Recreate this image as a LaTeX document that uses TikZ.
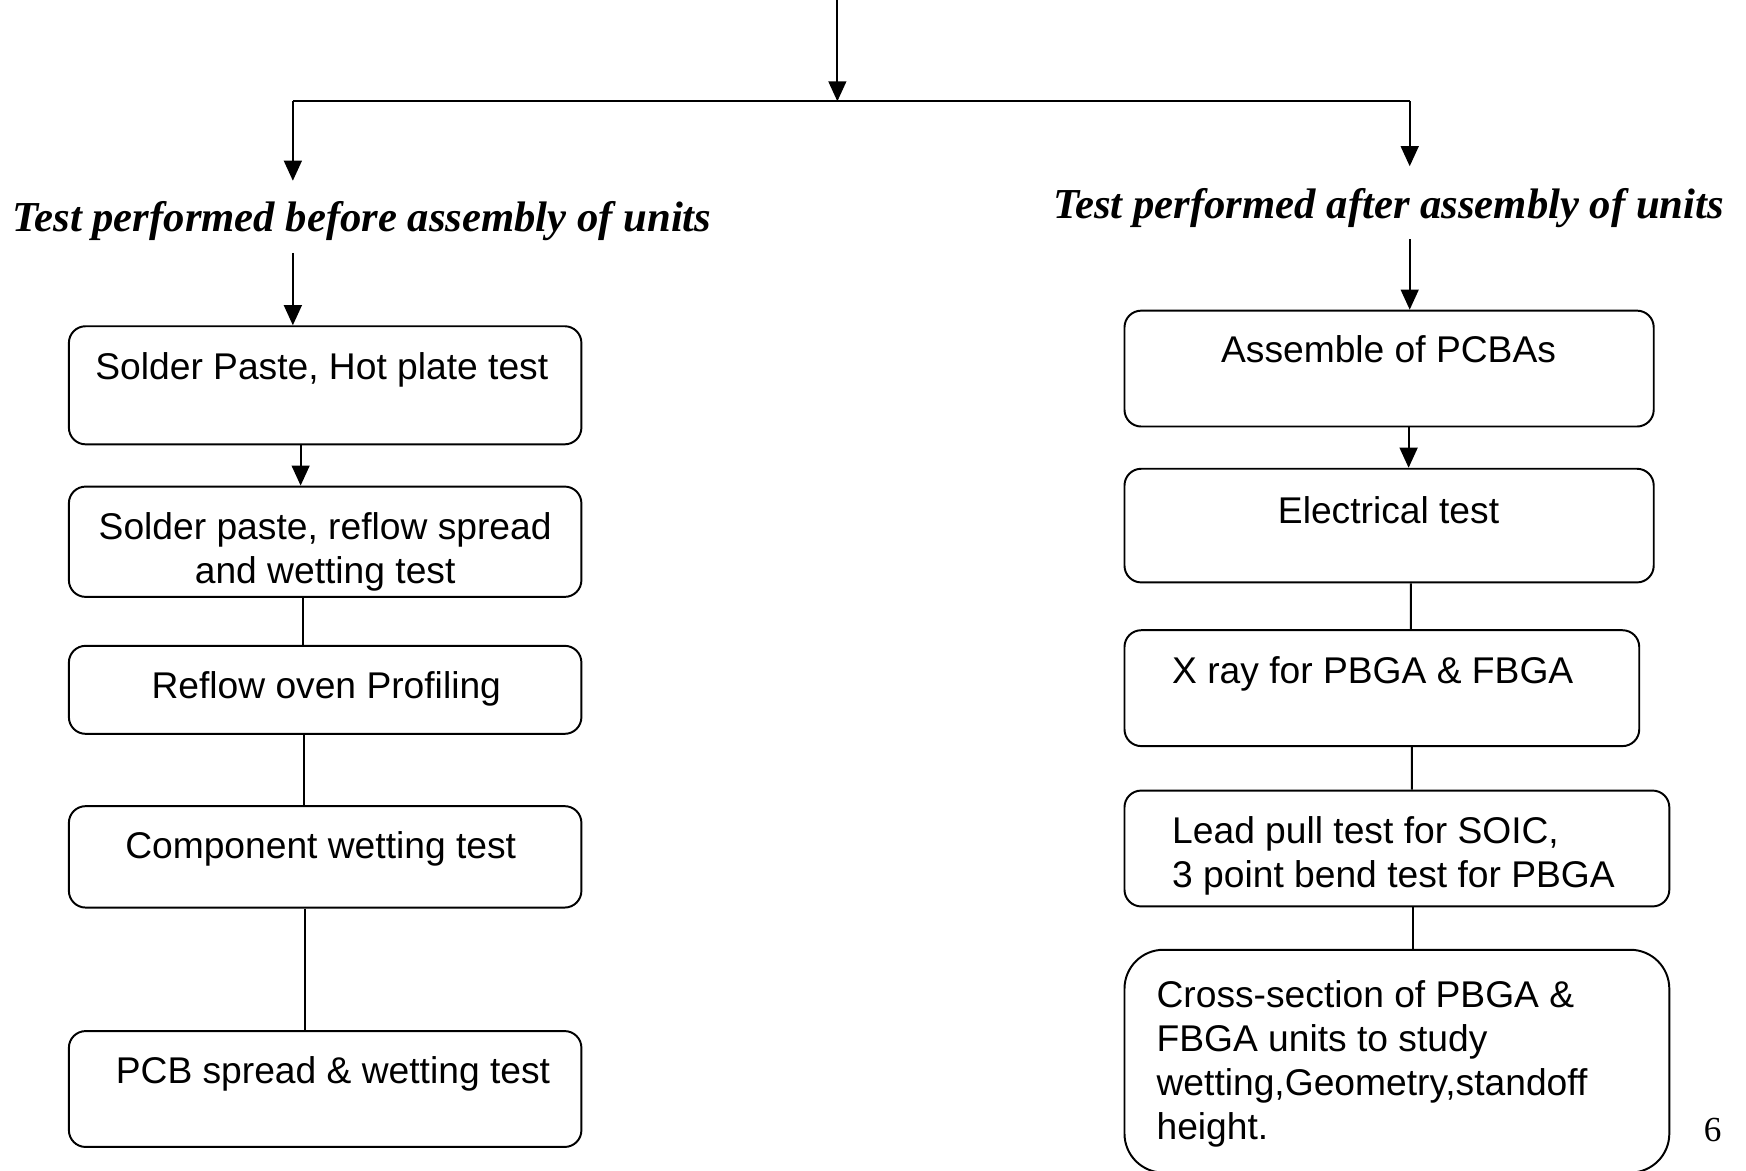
\documentclass[tikz,border=0pt]{standalone}
\usepackage{fontspec}
\setmainfont{Liberation Serif}
\newfontfamily\boxfont{Liberation Sans}
\usetikzlibrary{arrows.meta}

\tikzset{
  stage/.style={draw, line width=0.5pt, rounded corners=1.5mm, inner sep=0pt},
  stagetext/.style={font=\boxfont\fontsize{9.5}{11.2}\selectfont, inner sep=0pt, anchor=north},
  heading/.style={font=\bfseries\itshape\fontsize{10.9}{13}\selectfont, inner sep=0pt, anchor=base},
  flow/.style={line width=0.5pt, -{Triangle[length=1.8mm,width=1.6mm]}},
  link/.style={line width=0.5pt}
}

\begin{document}
\begin{tikzpicture}[x=0.01cm, y=-0.01cm]
  \useasboundingbox (0,0) rectangle (1568,1051);

  % main branch at the top
  \coordinate (top) at (752,0);
  \coordinate (fork) at (752,91);
  \coordinate (forkL) at (263,91);
  \coordinate (forkR) at (1266,91);
  \draw[flow] (top) -- (fork);
  \draw[link] (forkL) -- (forkR);

  % the two headings
  \node[heading] (before) at (325,208) {Test performed before assembly of units};
  \node[heading] (after) at (1247,196) {Test performed after assembly of units};
  \draw[flow, shorten >=1.8mm] (forkL) -- (forkL |- before.north);
  \draw[flow, shorten >=1.9mm] (forkR) -- (forkR |- after.north);

  % left column: before assembly
  \node[stage, minimum width=4.6cm, minimum height=1.06cm] (b1) at (292,346) {};
  \node[stage, minimum width=4.6cm, minimum height=0.99cm] (b2) at (292,486.5) {};
  \node[stage, minimum width=4.6cm, minimum height=0.79cm] (b3) at (292,619.5) {};
  \node[stage, minimum width=4.6cm, minimum height=0.91cm] (b4) at (292,769.5) {};
  \node[stage, minimum width=4.6cm, minimum height=1.04cm] (b5) at (292,978) {};

  \node[stagetext] at (289,316) {Solder Paste, Hot plate test};
  \node[stagetext, align=center] at (292,460) {Solder paste, reflow spread\\and wetting test};
  \node[stagetext] at (293,602) {Reflow oven Profiling};
  \node[stagetext] at (288,746) {Component wetting test};
  \node[stagetext] at (299,948) {PCB spread \& wetting test};

  \draw[flow, shorten <=1mm] (before.south -| forkL) -- (b1.north -| forkL);
  \draw[flow] ([xshift=-2.2mm]b1.south) -- ([xshift=-2.2mm]b2.north);
  \draw[link] ([xshift=-2mm]b2.south) -- ([xshift=-2mm]b3.north);
  \draw[link] ([xshift=-1.9mm]b3.south) -- ([xshift=-1.9mm]b4.north);
  \draw[link] ([xshift=-1.8mm]b4.south) -- ([xshift=-1.8mm]b5.north);

  % right column: after assembly
  \node[stage, minimum width=4.75cm, minimum height=1.04cm] (r1) at (1247.5,331) {};
  \node[stage, minimum width=4.75cm, minimum height=1.02cm] (r2) at (1247.5,472) {};
  \node[stage, minimum width=4.62cm, minimum height=1.04cm] (r3) at (1241,618) {};
  \node[stage, minimum width=4.89cm, minimum height=1.04cm] (r4) at (1254.5,762) {};
  \node[stage, minimum width=4.89cm, minimum height=2.00cm, rounded corners=3.5mm] (r5) at (1254.5,953) {};

  \node[stagetext] at (1247,301) {Assemble of PCBAs};
  \node[stagetext] at (1247,445) {Electrical test};
  \node[stagetext, anchor=north west] at (1052,589) {X ray for PBGA \& FBGA};
  \node[stagetext, anchor=north west, align=left] at (1052,733) {Lead pull test for SOIC,\\3 point bend test for PBGA};
  \node[stagetext, anchor=north west, align=left] at (1038,880)
    {Cross-section of PBGA \&\\FBGA units to study\\wetting,Geometry,standoff\\height.};

  \draw[flow, shorten <=1mm] (after.south -| forkR) -- (r1.north -| forkR);
  \draw[flow] ([xshift=1.75mm]r1.south) -- ([xshift=1.75mm]r2.north);
  \draw[link] ([xshift=1.95mm]r2.south) -- ([xshift=2.6mm]r3.north);
  \draw[link] ([xshift=2.7mm]r3.south) -- ([xshift=1.35mm]r4.north);
  \draw[link] ([xshift=1.45mm]r4.south) -- ([xshift=1.45mm]r5.north);

  % page number
  \node[font=\fontsize{9}{11}\selectfont] (page) at (1538,1015) {6};
\end{tikzpicture}
\end{document}
